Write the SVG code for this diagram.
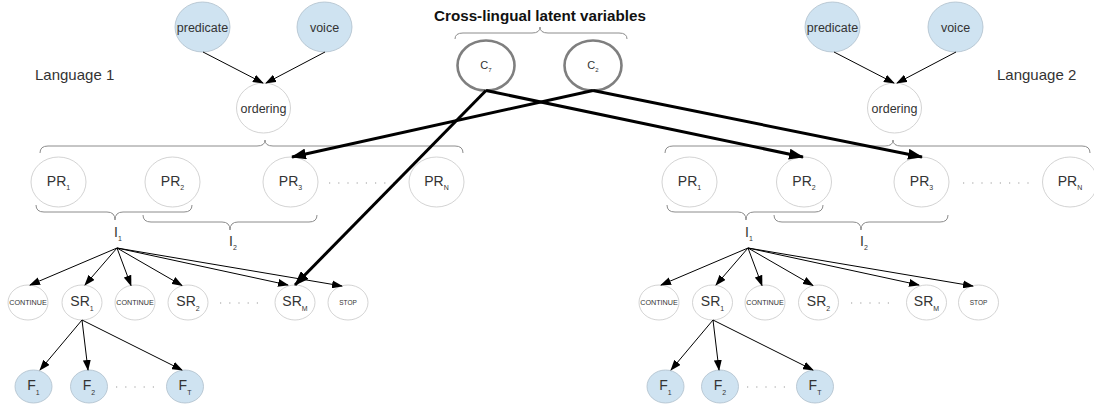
<svg xmlns="http://www.w3.org/2000/svg" width="1094" height="410" viewBox="0 0 1094 410">
<style>
text{font-family:"Liberation Sans",Arial,sans-serif;fill:#333;text-anchor:middle}
.n ellipse{fill:#fff;stroke:#c8c8c8;stroke-width:0.8}
.f ellipse{fill:#cfe3f1;stroke:#aebfcc;stroke-width:0.8}
.c ellipse{fill:#fff;stroke:#7f7f7f;stroke-width:2.6}
.t13{font-size:14px}
.t12{font-size:12.5px}
.t7{font-size:7.2px}
.t6{font-size:6.5px}
.sub{font-size:7px}
.lang{font-size:15px;text-anchor:start}
.title{font-size:15.2px;font-weight:bold;fill:#111}
.brace{fill:none;stroke:#8c8c8c;stroke-width:1}
.dots{stroke:#9a9a9a;stroke-width:1.2;stroke-dasharray:1.2 8}
.thin{stroke:#000;stroke-width:1;fill:none;marker-end:url(#ah)}
.thick{stroke:#000;stroke-width:3;fill:none;marker-end:url(#ahb)}
</style>
<defs>
<marker id="ah" markerUnits="userSpaceOnUse" markerWidth="11" markerHeight="8" refX="10" refY="4" orient="auto"><path d="M0,0 L11,4 L0,8 z" fill="#000"/></marker>
<marker id="ahb" markerUnits="userSpaceOnUse" markerWidth="15" markerHeight="11" refX="14" refY="5.5" orient="auto"><path d="M0,0 L15,5.5 L0,11 z" fill="#000"/></marker>
</defs>
<rect width="1094" height="410" fill="#fff"/>

<!-- labels and braces -->
<g id="labels">
<text class="title" x="540" y="21">Cross-lingual latent variables</text>
<text class="lang" x="35" y="80">Language 1</text>
<text class="lang" x="997" y="80">Language 2</text>
<text class="t13" x="118" y="237">I<tspan class="sub" dy="4">1</tspan></text>
<text class="t13" x="233" y="246">I<tspan class="sub" dy="4">2</tspan></text>
<text class="t13" x="749" y="237">I<tspan class="sub" dy="4">1</tspan></text>
<text class="t13" x="864" y="246">I<tspan class="sub" dy="4">2</tspan></text>
</g>
<g id="braces">
<path class="brace" d="M455,39 Q455,33 463,33 L532,33 Q540,33 540,27 Q540,33 548,33 L619,33 Q627,33 627,39"/>
<path class="brace" d="M40,153 Q40,146 48,146 L257,146 Q265,146 265,140 Q265,146 273,146 L455,146 Q463,146 463,153"/>
<path class="brace" d="M665,153 Q665,146 673,146 L885,146 Q893,146 893,140 Q893,146 901,146 L1082,146 Q1090,146 1090,153"/>
<path class="brace" d="M36,205 Q36,212 44,212 L107,212 Q115,212 115,220 Q115,212 123,212 L184,212 Q192,212 192,205"/>
<path class="brace" d="M143,215 Q143,222 151,222 L222,222 Q230,222 230,230 Q230,222 238,222 L309,222 Q317,222 317,215"/>
<path class="brace" d="M667,205 Q667,212 675,212 L738,212 Q746,212 746,220 Q746,212 754,212 L815,212 Q823,212 823,205"/>
<path class="brace" d="M774,215 Q774,222 782,222 L853,222 Q861,222 861,230 Q861,222 869,222 L940,222 Q948,222 948,215"/>
</g>
<g id="ellipsis">
<line class="dots" x1="329" y1="183" x2="395" y2="183"/>
<line class="dots" x1="220" y1="303" x2="262" y2="303"/>
<line class="dots" x1="116" y1="387" x2="160" y2="387"/>
<line class="dots" x1="963" y1="183" x2="1029" y2="183"/>
<line class="dots" x1="851" y1="303" x2="893" y2="303"/>
<line class="dots" x1="747" y1="387" x2="791" y2="387"/>
</g>

<!-- cross-lingual nodes -->
<g id="C7" class="c" transform="translate(486,65.5)"><ellipse rx="28.5" ry="25"/><text y="3.5" style="font-size:11px">C<tspan style="font-size:6px" dy="3">7</tspan></text></g>
<g id="C2" class="c" transform="translate(593,65.5)"><ellipse rx="28.5" ry="25"/><text y="3.5" style="font-size:11px">C<tspan style="font-size:6px" dy="3">2</tspan></text></g>

<!-- Language 1 -->
<g id="L1_predicate" class="f" transform="translate(202.5,27)"><ellipse rx="27.5" ry="25"/><text class="t12" y="4.5">predicate</text></g>
<g id="L1_voice" class="f" transform="translate(324.5,27)"><ellipse rx="27.5" ry="25"/><text class="t12" y="4.5">voice</text></g>
<g id="L1_ordering" class="n" transform="translate(263.5,108)"><ellipse rx="27" ry="25"/><text class="t12" y="4.5">ordering</text></g>
<g id="L1_PR1" class="n" transform="translate(58.5,182)"><ellipse rx="27.5" ry="25"/><text class="t13" y="4">PR<tspan class="sub" dy="4">1</tspan></text></g>
<g id="L1_PR2" class="n" transform="translate(172.5,182)"><ellipse rx="27.5" ry="25"/><text class="t13" y="4">PR<tspan class="sub" dy="4">2</tspan></text></g>
<g id="L1_PR3" class="n" transform="translate(290.5,182)"><ellipse rx="27.5" ry="25"/><text class="t13" y="4">PR<tspan class="sub" dy="4">3</tspan></text></g>
<g id="L1_PRN" class="n" transform="translate(436.5,182)"><ellipse rx="27.5" ry="25"/><text class="t13" y="4">PR<tspan class="sub" dy="4">N</tspan></text></g>
<g id="L1_CONT1" class="n" transform="translate(28,302.5)"><ellipse rx="20" ry="17.5"/><text class="t7" y="2.5">CONTINUE</text></g>
<g id="L1_SR1" class="n" transform="translate(82,302.5)"><ellipse rx="20" ry="17.5"/><text class="t13" y="3">SR<tspan class="sub" dy="5">1</tspan></text></g>
<g id="L1_CONT2" class="n" transform="translate(135,302.5)"><ellipse rx="20" ry="17.5"/><text class="t7" y="2.5">CONTINUE</text></g>
<g id="L1_SR2" class="n" transform="translate(188,302.5)"><ellipse rx="20" ry="17.5"/><text class="t13" y="3">SR<tspan class="sub" dy="5">2</tspan></text></g>
<g id="L1_SRM" class="n" transform="translate(295,302.5)"><ellipse rx="20" ry="17.5"/><text class="t13" y="3">SR<tspan class="sub" dy="5">M</tspan></text></g>
<g id="L1_STOP" class="n" transform="translate(348,302.5)"><ellipse rx="20" ry="17.5"/><text class="t6" y="2.5">STOP</text></g>
<g id="L1_F1" class="f" transform="translate(33.5,386.5)"><ellipse rx="18.5" ry="16.5"/><text class="t13" y="3">F<tspan class="sub" dy="5">1</tspan></text></g>
<g id="L1_F2" class="f" transform="translate(89,386.5)"><ellipse rx="18.5" ry="16.5"/><text class="t13" y="3">F<tspan class="sub" dy="5">2</tspan></text></g>
<g id="L1_FT" class="f" transform="translate(185,386.5)"><ellipse rx="18.5" ry="16.5"/><text class="t13" y="3">F<tspan class="sub" dy="5">T</tspan></text></g>

<!-- Language 2 -->
<g id="L2_predicate" class="f" transform="translate(832.5,27)"><ellipse rx="27.5" ry="25"/><text class="t12" y="4.5">predicate</text></g>
<g id="L2_voice" class="f" transform="translate(955.5,27)"><ellipse rx="27.5" ry="25"/><text class="t12" y="4.5">voice</text></g>
<g id="L2_ordering" class="n" transform="translate(894.5,108)"><ellipse rx="27" ry="25"/><text class="t12" y="4.5">ordering</text></g>
<g id="L2_PR1" class="n" transform="translate(689.5,182)"><ellipse rx="27.5" ry="25"/><text class="t13" y="4">PR<tspan class="sub" dy="4">1</tspan></text></g>
<g id="L2_PR2" class="n" transform="translate(804,182)"><ellipse rx="27.5" ry="25"/><text class="t13" y="4">PR<tspan class="sub" dy="4">2</tspan></text></g>
<g id="L2_PR3" class="n" transform="translate(921.5,182)"><ellipse rx="27.5" ry="25"/><text class="t13" y="4">PR<tspan class="sub" dy="4">3</tspan></text></g>
<g id="L2_PRN" class="n" transform="translate(1070,182)"><ellipse rx="27.5" ry="25"/><text class="t13" y="4">PR<tspan class="sub" dy="4">N</tspan></text></g>
<g id="L2_CONT1" class="n" transform="translate(659,302.5)"><ellipse rx="20" ry="17.5"/><text class="t7" y="2.5">CONTINUE</text></g>
<g id="L2_SR1" class="n" transform="translate(712.5,302.5)"><ellipse rx="20" ry="17.5"/><text class="t13" y="3">SR<tspan class="sub" dy="5">1</tspan></text></g>
<g id="L2_CONT2" class="n" transform="translate(765,302.5)"><ellipse rx="20" ry="17.5"/><text class="t7" y="2.5">CONTINUE</text></g>
<g id="L2_SR2" class="n" transform="translate(818.5,302.5)"><ellipse rx="20" ry="17.5"/><text class="t13" y="3">SR<tspan class="sub" dy="5">2</tspan></text></g>
<g id="L2_SRM" class="n" transform="translate(926.5,302.5)"><ellipse rx="20" ry="17.5"/><text class="t13" y="3">SR<tspan class="sub" dy="5">M</tspan></text></g>
<g id="L2_STOP" class="n" transform="translate(978.5,302.5)"><ellipse rx="20" ry="17.5"/><text class="t6" y="2.5">STOP</text></g>
<g id="L2_F1" class="f" transform="translate(665.5,386.5)"><ellipse rx="18.5" ry="16.5"/><text class="t13" y="3">F<tspan class="sub" dy="5">1</tspan></text></g>
<g id="L2_F2" class="f" transform="translate(720,386.5)"><ellipse rx="18.5" ry="16.5"/><text class="t13" y="3">F<tspan class="sub" dy="5">2</tspan></text></g>
<g id="L2_FT" class="f" transform="translate(815,386.5)"><ellipse rx="18.5" ry="16.5"/><text class="t13" y="3">F<tspan class="sub" dy="5">T</tspan></text></g>

<!-- connectors -->
<g id="connectors">
<line class="thin" x1="203" y1="52" x2="263" y2="83"/>
<line class="thin" x1="325" y1="52" x2="266" y2="83"/>
<line class="thin" x1="117" y1="248" x2="30" y2="285"/>
<line class="thin" x1="117" y1="248" x2="85" y2="285"/>
<line class="thin" x1="117" y1="248" x2="131" y2="285.5"/>
<line class="thin" x1="117" y1="248" x2="182" y2="285.5"/>
<line class="thin" x1="117" y1="248" x2="288" y2="285"/>
<line class="thin" x1="117" y1="248" x2="342" y2="286"/>
<line class="thin" x1="82" y1="320" x2="40" y2="370"/>
<line class="thin" x1="82" y1="320" x2="88" y2="370"/>
<line class="thin" x1="82" y1="320" x2="182" y2="370"/>

<line class="thin" x1="834" y1="52" x2="894" y2="83"/>
<line class="thin" x1="956" y1="52" x2="897" y2="83"/>
<line class="thin" x1="748" y1="248" x2="661" y2="285"/>
<line class="thin" x1="748" y1="248" x2="716" y2="285"/>
<line class="thin" x1="748" y1="248" x2="762" y2="285.5"/>
<line class="thin" x1="748" y1="248" x2="813" y2="285.5"/>
<line class="thin" x1="748" y1="248" x2="919" y2="285"/>
<line class="thin" x1="748" y1="248" x2="973" y2="286"/>
<line class="thin" x1="713" y1="320" x2="671" y2="370"/>
<line class="thin" x1="713" y1="320" x2="719" y2="370"/>
<line class="thin" x1="713" y1="320" x2="813" y2="370"/>

<line class="thick" x1="486" y1="90.5" x2="295" y2="285"/>
<line class="thick" x1="486" y1="90.5" x2="803" y2="157"/>
<line class="thick" x1="593" y1="90.5" x2="292" y2="157"/>
<line class="thick" x1="593" y1="90.5" x2="922" y2="157"/>
</g>
</svg>
